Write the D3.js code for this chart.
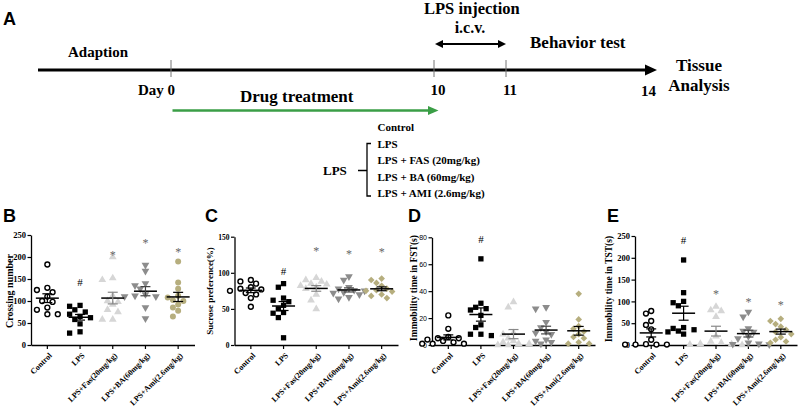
<!DOCTYPE html>
<html><head><meta charset="utf-8">
<script src="https://cdn.jsdelivr.net/npm/d3@7"></script>
<style>body{margin:0;background:#fff}svg{display:block}</style>
</head><body>
<svg id="c" width="799" height="409"></svg>
<script>
// ---------- data ----------
const groups = ["Control","LPS","LPS+Fas(20mg/kg)","LPS+BA(60mg/kg)","LPS+Ami(2.6mg/kg)"];

const crossingControl = [183, 130, 120, 125, 110, 98, 100, 85, 80, 70, 70];
const crossingLPS     = [90, 88, 80, 75, 70, 65, 62, 58, 48, 30, 27];
const crossingFas     = [200, 152, 148, 112, 100, 98, 92, 80, 75, 58, 58];
const crossingBA      = [182, 168, 140, 135, 128, 115, 112, 110, 110, 85, 60];
const crossingAmi     = [190, 142, 128, 112, 108, 102, 100, 92, 85, 78, 65];
const crossingSig     = ["", "#", "*", "*", "*"];
const crossingSigAt   = [null, 142, 212, 240, 218];

const sucroseControl = [90, 88, 85, 80, 78, 77, 75, 72, 70, 65, 53];
const sucroseLPS     = [85, 80, 65, 62, 60, 55, 50, 45, 44, 38, 10];
const sucroseFas     = [93, 90, 88, 85, 84, 82, 80, 78, 70, 62, 50];
const sucroseBA      = [95, 90, 80, 78, 76, 75, 73, 72, 70, 66, 64];
const sucroseAmi     = [92, 90, 86, 82, 78, 76, 75, 74, 70, 68, 65];
const sucroseSig     = ["", "#", "*", "*", "*"];
const sucroseSigAt   = [null, 102, 135, 131, 133];

const fstControl = [22, 12, 6, 5, 5, 4, 3, 2, 1, 1, 1];
const fstLPS     = [64, 31, 28, 27, 26, 22, 15, 13, 8, 8, 7];
const fstFas     = [32, 28, 9, 8, 5, 3, 2, 1, 1, 0, 0];
const fstBA      = [28, 27, 17, 13, 10, 9, 8, 4, 3, 2, 1];
const fstAmi     = [38, 19, 14, 12, 10, 8, 6, 5, 2, 1, 1];
const fstSig     = ["", "#", "", "", ""];
const fstSigAt   = [null, 78.5, null, null, null];

const tstControl = [78, 72, 55, 46, 36, 12, 2, 1, 1, 1, 1];
const tstLPS     = [195, 120, 100, 97, 90, 40, 38, 35, 32, 30, 25];
const tstFas     = [88, 80, 78, 65, 20, 8, 5, 3, 2, 1, 0];
const tstBA      = [76, 65, 38, 32, 30, 20, 15, 5, 3, 2, 1];
const tstAmi     = [60, 55, 48, 42, 35, 30, 25, 18, 12, 8, 5];
const tstSig     = ["", "#", "*", "*", "*"];
const tstSigAt   = [null, 241, 124, 105, 99];

const timelineDays   = [0, 10, 11, 14];
const timelineLabels = ["Day 0", "10", "11", "14"];
const legendItems    = ["Control", "LPS", "LPS + FAS (20mg/kg)", "LPS + BA (60mg/kg)", "LPS + AMI (2.6mg/kg)"];

// ---------- drawing ----------
const svg = d3.select("#c");
svg.append("rect").attr("width",799).attr("height",409).attr("fill","#fff");
const SERIF = "'Liberation Serif','Times New Roman',serif";
const SANS = "'Liberation Sans',Arial,sans-serif";

// ===== Panel A =====
const A = svg.append("g");
A.append("text").attr("x",3).attr("y",25).attr("font-family",SANS).attr("font-weight","bold")
  .attr("font-size",18).text("A");
const dayX = d3.scaleLinear().domain(timelineDays).range([171, 434, 506, 650]);
const lineY = 70;
A.append("line").attr("x1",38).attr("x2",646).attr("y1",lineY).attr("y2",lineY)
  .attr("stroke","#000").attr("stroke-width",3.2);
A.append("path").attr("d",`M645,${lineY-5.5}L657,${lineY}L645,${lineY+5.5}Z`).attr("fill","#000");
timelineDays.slice(0,3).forEach(d=>{
  A.append("line").attr("x1",dayX(d)).attr("x2",dayX(d)).attr("y1",60).attr("y2",77)
   .attr("stroke","#777").attr("stroke-width",1);
});
timelineDays.forEach((d,i)=>{
  const t = A.append("text").attr("font-family",SERIF).attr("font-weight","bold").attr("font-size",15)
    .attr("y", i===3?96:95).text(timelineLabels[i]);
  if(i===0) t.attr("x",dayX(d)+4).attr("text-anchor","end");
  else if(i===3) t.attr("x",dayX(d)+6).attr("text-anchor","end");
  else t.attr("x",dayX(d)+4).attr("text-anchor","middle");
});
A.append("text").attr("x",68).attr("y",57).attr("font-family",SERIF).attr("font-weight","bold")
  .attr("font-size",15).text("Adaption");
A.append("text").attr("x",240).attr("y",102).attr("font-family",SERIF).attr("font-weight","bold")
  .attr("font-size",17).text("Drug treatment");
A.append("line").attr("x1",dayX(0)+1.5).attr("x2",431).attr("y1",110.5).attr("y2",110.5)
  .attr("stroke","#3a9e46").attr("stroke-width",2.5);
A.append("path").attr("d","M428,106L438.5,110.5L428,115Z").attr("fill","#3a9e46");
A.append("text").attr("x",424).attr("y",13.5).attr("font-family",SERIF).attr("font-weight","bold")
  .attr("font-size",16.5).text("LPS injection");
A.append("text").attr("x",(dayX(10)+dayX(11))/2).attr("y",33).attr("text-anchor","middle")
  .attr("font-family",SERIF).attr("font-weight","bold").attr("font-size",16).text("i.c.v.");
A.append("line").attr("x1",dayX(10)+6).attr("x2",dayX(11)-6).attr("y1",44).attr("y2",44)
  .attr("stroke","#000").attr("stroke-width",2);
A.append("path").attr("d",`M${dayX(10)+1},44L${dayX(10)+9},40L${dayX(10)+9},48Z`).attr("fill","#000");
A.append("path").attr("d",`M${dayX(11)},44L${dayX(11)-8},40L${dayX(11)-8},48Z`).attr("fill","#000");
A.append("text").attr("x",530).attr("y",48).attr("font-family",SERIF).attr("font-weight","bold")
  .attr("font-size",17).text("Behavior test");
A.append("text").attr("x",699).attr("y",71).attr("text-anchor","middle").attr("font-family",SERIF)
  .attr("font-weight","bold").attr("font-size",17).text("Tissue");
A.append("text").attr("x",699).attr("y",91).attr("text-anchor","middle").attr("font-family",SERIF)
  .attr("font-weight","bold").attr("font-size",17).text("Analysis");

// legend
const legY = d3.scalePoint().domain(legendItems).range([131, 197]);
legendItems.forEach(t=>{
  A.append("text").attr("x",377.5).attr("y",legY(t)).attr("font-family",SERIF).attr("font-weight","bold")
   .attr("font-size",11).text(t);
});
A.append("text").attr("x",323).attr("y",175).attr("font-family",SERIF).attr("font-weight","bold")
  .attr("font-size",13).text("LPS");
const brTop = legY(legendItems[1]) - 4, brBot = legY(legendItems[4]) - 1;
A.append("path").attr("d",`M371,${brTop}L367,${brTop}L367,${brBot}L371,${brBot}M358,170.5L367,170.5`)
  .attr("fill","none").attr("stroke","#000").attr("stroke-width",1.3);

// ===== scatter panels =====
const styles = [
  {fill:"#fff", stroke:"#000", shape:"circle"},
  {fill:"#000", stroke:"none", shape:"square"},
  {fill:"#d6d6d6", stroke:"none", shape:"tri"},
  {fill:"#8c8c8c", stroke:"none", shape:"triDown"},
  {fill:"#b6ae7e", stroke:"none", shape:"diamond"}
];
function shapePath(shape){
  if(shape==="circle") return d3.symbol(d3.symbolCircle, 19)();
  if(shape==="square") return d3.symbol(d3.symbolSquare, 28)();
  if(shape==="tri" || shape==="triDown") return d3.symbol(d3.symbolTriangle, 26)();
  if(shape==="diamond") return d3.symbol(d3.symbolSquare, 22)();
  if(shape==="dot") return d3.symbol(d3.symbolCircle, 28)();
}
function shapeRot(shape){ return shape==="triDown"?180:(shape==="diamond"?45:0); }

function beeswarm(vals, y, cx, d){
  const order = vals.map((v,i)=>i).sort((a,b)=>vals[b]-vals[a]);
  const placed = [], out = new Array(vals.length);
  order.forEach(i=>{
    const py = y(vals[i]);
    for(let k=0;k<20;k++){
      const off = k===0?0:(k%2?-1:1)*Math.ceil(k/2)*d*0.9;
      const px = cx+off;
      if(placed.every(p=>Math.hypot(p[0]-px,p[1]-py)>=d)){ placed.push([px,py]); out[i]=[px,py]; break; }
    }
  });
  return out;
}

function panel(cfg){
  const g = svg.append("g");
  const x = d3.scaleBand().domain(groups).range([cfg.x0, cfg.x1]);
  const y = d3.scaleLinear().domain([0, cfg.max]).range([345, cfg.yTop]);
  g.append("text").attr("x",cfg.letterX).attr("y",222).attr("font-family",SANS).attr("font-weight","bold")
    .attr("font-size",18).text(cfg.letter);
  // y axis
  const ya = g.append("g").attr("transform",`translate(${cfg.x0},0)`)
    .call(d3.axisLeft(y).tickValues(d3.range(0,cfg.max+0.1,cfg.step)).tickSize(3.5).tickSizeOuter(0).tickPadding(1.5));
  ya.select(".domain").attr("stroke-width",1.3);
  ya.selectAll(".tick line").attr("stroke-width",1.2);
  ya.selectAll("text").attr("font-family",cfg.tickFont).attr("font-weight",cfg.tickWeight)
    .attr("font-size",cfg.tickSize).attr("fill","#000");
  // x axis
  const xa = g.append("g").attr("transform","translate(0,345)")
    .call(d3.axisBottom(x).tickSize(4).tickSizeOuter(0));
  xa.select(".domain").attr("stroke-width",1.3);
  xa.selectAll(".tick line").attr("stroke-width",1.2);
  xa.selectAll("text").attr("x",0).attr("y",0).attr("dy","0.35em")
    .attr("transform","translate(3,9) rotate(-45)").style("text-anchor","end")
    .attr("font-family",SERIF).attr("font-weight","bold").attr("font-size",8).attr("fill","#000");
  // y title
  g.append("text").attr("transform",`translate(${cfg.titleX},${cfg.titleY}) rotate(-90)`)
    .attr("text-anchor","middle").attr("dy","0.35em").attr("font-family",SERIF).attr("font-weight","bold")
    .attr("font-size",cfg.titleSize).text(cfg.title);
  // points
  cfg.series.forEach((vals,i)=>{
    const st = styles[i];
    const shape = (i===4 && cfg.amiDot) ? "dot" : st.shape;
    const cx = x(groups[i]) + x.bandwidth()/2;
    const pos = beeswarm(vals, y, cx, 5.8);
    g.append("g").selectAll("path").data(pos).join("path")
      .attr("d", shapePath(shape))
      .attr("transform", p=>`translate(${p[0]},${p[1]}) rotate(${shapeRot(shape)})`)
      .attr("fill", st.fill).attr("stroke", st.stroke).attr("stroke-width", st.stroke==="none"?0:1.4);
  });
  // mean & SEM
  cfg.series.forEach((vals,i)=>{
    const cx = x(groups[i]) + x.bandwidth()/2;
    const m = d3.mean(vals), sem = d3.deviation(vals)/Math.sqrt(vals.length);
    const col = i===2 ? "#888" : (i===3 ? "#444" : "#000");
    g.append("line").attr("x1",cx-11.5).attr("x2",cx+11.5).attr("y1",y(m)).attr("y2",y(m))
      .attr("stroke","#000").attr("stroke-width",1.5);
    g.append("line").attr("x1",cx).attr("x2",cx).attr("y1",y(m-sem)).attr("y2",y(m+sem))
      .attr("stroke",col).attr("stroke-width",1.2);
    [m-sem,m+sem].forEach(v=>g.append("line").attr("x1",cx-5).attr("x2",cx+5).attr("y1",y(v)).attr("y2",y(v))
      .attr("stroke",col).attr("stroke-width",1.2));
  });
  // significance
  cfg.sig.forEach((s,i)=>{
    if(!s) return;
    const cx = x(groups[i]) + x.bandwidth()/2;
    g.append("text").attr("x",cx).attr("y",y(cfg.sigAt[i])).attr("dy", s==="#"?"0.35em":"0.6em")
      .attr("text-anchor","middle").attr("font-family",SERIF).attr("font-size",s==="#"?11:12)
      .attr("fill", s==="#"?"#000":"#666").text(s);
  });
}

panel({letter:"B", letterX:3, x0:31, x1:194.5, yTop:235, max:250, step:50,
  tickFont:SERIF, tickWeight:"bold", tickSize:8.5,
  title:"Crossing number", titleX:9, titleY:291, titleSize:10, amiDot:true,
  series:[crossingControl,crossingLPS,crossingFas,crossingBA,crossingAmi],
  sig:crossingSig, sigAt:crossingSigAt});
panel({letter:"C", letterX:205, x0:234.5, x1:398, yTop:236.7, max:150, step:50,
  tickFont:SERIF, tickWeight:"bold", tickSize:7.5,
  title:"Sucrose preference(%)", titleX:210, titleY:291, titleSize:9,
  series:[sucroseControl,sucroseLPS,sucroseFas,sucroseBA,sucroseAmi],
  sig:sucroseSig, sigAt:sucroseSigAt});
panel({letter:"D", letterX:408, x0:432, x1:595, yTop:237.3, max:80, step:20,
  tickFont:SANS, tickWeight:"normal", tickSize:7,
  title:"Immobility time in FST(s)", titleX:414, titleY:288, titleSize:9.5,
  series:[fstControl,fstLPS,fstFas,fstBA,fstAmi],
  sig:fstSig, sigAt:fstSigAt});
panel({letter:"E", letterX:607, x0:635, x1:797, yTop:236, max:250, step:50,
  tickFont:SERIF, tickWeight:"bold", tickSize:8.5,
  title:"Immobility time in TST(s)", titleX:608.5, titleY:289, titleSize:9.5,
  series:[tstControl,tstLPS,tstFas,tstBA,tstAmi],
  sig:tstSig, sigAt:tstSigAt});
</script>
</body></html>
